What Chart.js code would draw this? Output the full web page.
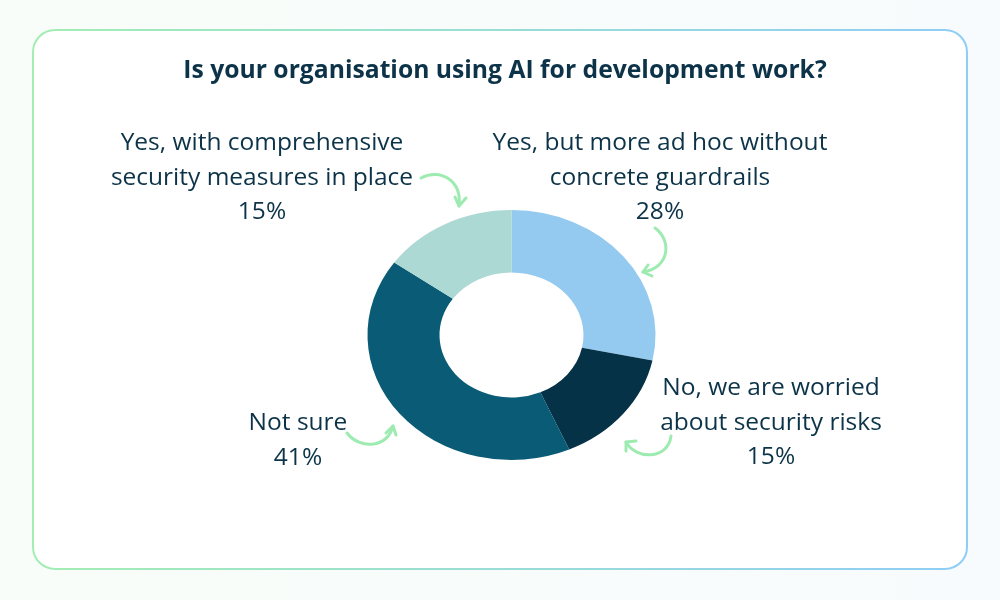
<!DOCTYPE html>
<html>
<head>
<meta charset="utf-8">
<script src="https://cdn.jsdelivr.net/npm/chart.js@4.4.1/dist/chart.umd.min.js"></script>
<style>
  html, body { margin: 0; padding: 0; width: 1000px; height: 600px; overflow: hidden; }
  body { background: linear-gradient(90deg, #f8fdf9 0%, #f7fbfd 100%); }
  #wrap { position: absolute; left: 0; top: 0; width: 1000px; height: 600px; }
</style>
</head>
<body>
<div id="wrap"><canvas id="c" width="1000" height="600"></canvas></div>
<script>
const title = 'Is your organisation using AI for development work?';
const categories = [
  'Yes, but more ad hoc without concrete guardrails',
  'No, we are worried about security risks',
  'Not sure',
  'Yes, with comprehensive security measures in place'
];
const values = [28, 15, 41, 15];
const sliceColors = ['#94caf0', '#063247', '#0a5b76', '#add9d4'];
const labelLines = [
  ['Yes, but more ad hoc without', 'concrete guardrails'],
  ['No, we are worried', 'about security risks'],
  ['Not sure'],
  ['Yes, with comprehensive', 'security measures in place']
];

// layout (not data)
const TEXT = '#0c3348';
const ARROW = '#9debb0';
const labelAnchors = [
  { x: 660, y: 150 },
  { x: 771, y: 395 },
  { x: 298, y: 430 },
  { x: 262, y: 150 }
];
const LINE_H = 34.5;
const XSCALE = 1.152;

const cardPlugin = {
  id: 'card',
  beforeDraw(chart) {
    const ctx = chart.ctx;
    ctx.save();
    const x = 33, y = 30, w = 934, h = 539, r = 22;
    ctx.beginPath();
    ctx.roundRect(x, y, w, h, r);
    ctx.fillStyle = '#ffffff';
    ctx.fill();
    const g = ctx.createLinearGradient(x, 0, x + w, 0);
    g.addColorStop(0, '#a3edb4');
    g.addColorStop(1, '#8fcdf6');
    ctx.strokeStyle = g;
    ctx.lineWidth = 2;
    ctx.stroke();
    ctx.restore();
  },
  beforeDatasetsDraw(chart) {
    const meta = chart.getDatasetMeta(0);
    const cx = meta.data[0].x;
    const ctx = chart.ctx;
    ctx.save();
    ctx.translate(cx, 0);
    ctx.scale(XSCALE, 1);
    ctx.translate(-cx, 0);
  },
  afterDatasetsDraw(chart) {
    chart.ctx.restore();
  },
  afterDraw(chart) {
    const ctx = chart.ctx;
    ctx.save();
    ctx.fillStyle = TEXT;
    ctx.textAlign = 'center';
    ctx.textBaseline = 'alphabetic';
    ctx.font = 'bold 24.7px "Open Sans"';
    ctx.fillText(title, 505, 78);
    ctx.font = '24.5px "Open Sans"';
    labelLines.forEach((lines, i) => {
      const a = labelAnchors[i];
      const all = lines.concat([values[i] + '%']);
      all.forEach((t, k) => ctx.fillText(t, a.x, a.y + k * LINE_H));
    });
    // hand-drawn style arrows
    ctx.strokeStyle = ARROW;
    ctx.lineWidth = 3;
    ctx.lineCap = 'round';
    ctx.lineJoin = 'round';
    const arrow = (pts, tip, w1, w2) => {
      ctx.beginPath();
      ctx.moveTo(pts[0][0], pts[0][1]);
      ctx.bezierCurveTo(pts[1][0], pts[1][1], pts[2][0], pts[2][1], pts[3][0], pts[3][1]);
      ctx.stroke();
      ctx.beginPath();
      ctx.moveTo(w1[0], w1[1]);
      ctx.lineTo(tip[0], tip[1]);
      ctx.lineTo(w2[0], w2[1]);
      ctx.stroke();
    };
    arrow([[421, 178], [440, 168], [462, 180], [459, 206]], [459, 206], [455, 197], [466, 198]);
    arrow([[655, 228], [672, 240], [670, 268], [643, 272]], [643, 272], [648, 265], [652, 276]);
    arrow([[671, 436], [668, 460], [636, 460], [626, 442]], [626, 442], [626, 451], [636, 441]);
    arrow([[347, 433], [360, 450], [388, 448], [393, 426]], [393, 426], [386, 433], [396, 435]);
    ctx.restore();
  }
};

new Chart(document.getElementById('c'), {
  type: 'doughnut',
  data: {
    labels: categories,
    datasets: [{
      data: values,
      backgroundColor: sliceColors,
      borderWidth: 0,
      hoverOffset: 0
    }]
  },
  options: {
    responsive: false,
    animation: false,
    cutout: '50%',
    rotation: 0,
    layout: { padding: { left: 386.5, right: 363.5, top: 210, bottom: 140 } },
    plugins: {
      legend: { display: false },
      tooltip: { enabled: false },
      title: { display: false }
    },
    events: []
  },
  plugins: [cardPlugin]
});
</script>
</body>
</html>
